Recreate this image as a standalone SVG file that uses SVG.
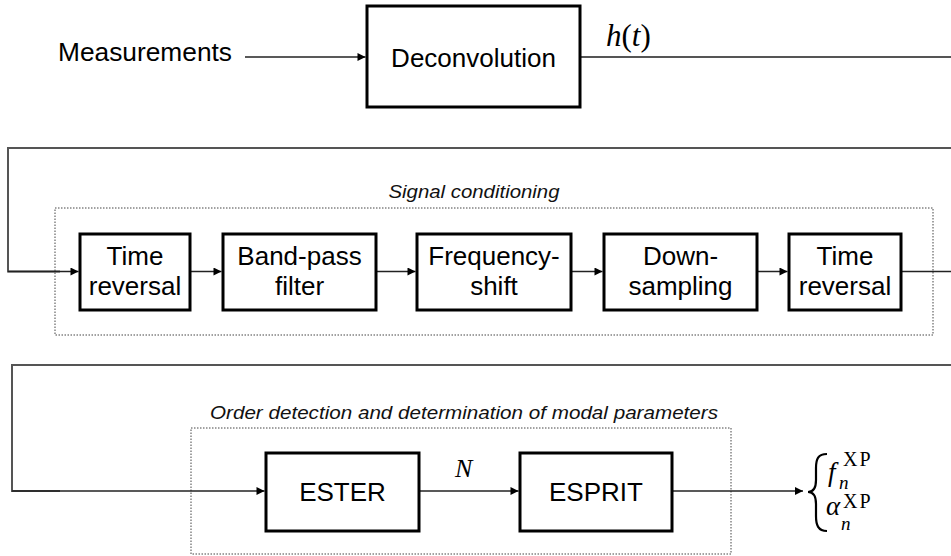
<svg xmlns="http://www.w3.org/2000/svg" width="951" height="556" viewBox="0 0 951 556">
<style>
  .box { fill: #fff; stroke: #000; stroke-width: 3; }
  .lbl { font-family: "Liberation Sans", Arial, sans-serif; font-size: 26px; fill: #000; text-anchor: middle; }
  .grp { fill: none; stroke: #444; stroke-width: 1; stroke-dasharray: 1.5 1.5; }
  .cap { font-family: "Liberation Sans", Arial, sans-serif; font-size: 19px; font-style: italic; fill: #111; text-anchor: middle; }
  .wire { fill: none; stroke: #222; stroke-width: 1.5; }
  .wrap { fill: none; stroke: #555; stroke-width: 2; }
  .arr { marker-end: url(#ah); }
  .math { font-family: "Liberation Serif", "Times New Roman", serif; fill: #000; }
  .it { font-style: italic; }
  .sup { font-size: 20px; letter-spacing: 2px; }
  .sub { font-size: 19px; font-style: italic; }
</style>
<defs>
  <marker id="ah" viewBox="0 0 10 10" refX="10" refY="5" markerWidth="9" markerHeight="8" markerUnits="userSpaceOnUse" orient="auto">
    <path d="M0,0 L10,5 L0,10 z" fill="#000"/>
  </marker>
</defs>
<rect width="951" height="556" fill="#fff"/>

<g id="groups">
  <rect class="grp" x="55" y="208" width="878" height="127"/>
  <text class="cap" x="474" y="198" textLength="171" lengthAdjust="spacingAndGlyphs">Signal conditioning</text>
  <rect class="grp" x="191" y="428" width="540" height="126"/>
  <text class="cap" x="464" y="419" textLength="508" lengthAdjust="spacingAndGlyphs">Order detection and determination of modal parameters</text>
</g>

<g id="connectors">
  <line class="wire arr" x1="245" y1="57" x2="365.5" y2="57"/>
  <line class="wrap" x1="580" y1="57" x2="951" y2="57"/>
  <polyline class="wrap" points="951,148 8,148 8,271.5 60,271.5"/>
  <line class="wire arr" x1="8" y1="271.5" x2="78.5" y2="271.5"/>
  <line class="wire arr" x1="190" y1="271.5" x2="221.5" y2="271.5"/>
  <line class="wire arr" x1="376" y1="271.5" x2="415.5" y2="271.5"/>
  <line class="wire arr" x1="571" y1="271.5" x2="602.5" y2="271.5"/>
  <line class="wire arr" x1="757" y1="271.5" x2="787.5" y2="271.5"/>
  <line class="wire" x1="901" y1="271.5" x2="951" y2="271.5"/>
  <polyline class="wrap" points="951,365 12,365 12,491 60,491"/>
  <line class="wire arr" x1="12" y1="491" x2="264.5" y2="491"/>
  <line class="wire arr" x1="419" y1="491" x2="518.5" y2="491"/>
  <line class="wire arr" x1="672" y1="491" x2="803" y2="491"/>
</g>

<g id="measurements">
  <text class="lbl" x="58" y="61" style="text-anchor:start" textLength="174" lengthAdjust="spacingAndGlyphs">Measurements</text>
</g>

<g id="deconvolution">
  <rect class="box" x="367" y="6" width="213" height="101"/>
  <text class="lbl" x="473.5" y="67">Deconvolution</text>
</g>

<g id="ht">
  <text class="math" x="606" y="46" font-size="31"><tspan class="it">h</tspan>(<tspan class="it">t</tspan>)</text>
</g>

<g id="time-reversal-1">
  <rect class="box" x="80" y="234" width="110" height="76"/>
  <text class="lbl" x="135" y="265">Time</text>
  <text class="lbl" x="135" y="295">reversal</text>
</g>

<g id="band-pass">
  <rect class="box" x="223" y="234" width="153" height="76"/>
  <text class="lbl" x="299.5" y="265">Band-pass</text>
  <text class="lbl" x="299.5" y="295">filter</text>
</g>

<g id="frequency-shift">
  <rect class="box" x="417" y="234" width="154" height="76"/>
  <text class="lbl" x="494" y="265">Frequency-</text>
  <text class="lbl" x="494" y="295">shift</text>
</g>

<g id="down-sampling">
  <rect class="box" x="604" y="234" width="153" height="76"/>
  <text class="lbl" x="680.5" y="265">Down-</text>
  <text class="lbl" x="680.5" y="295">sampling</text>
</g>

<g id="time-reversal-2">
  <rect class="box" x="789" y="234" width="112" height="76"/>
  <text class="lbl" x="845" y="265">Time</text>
  <text class="lbl" x="845" y="295">reversal</text>
</g>

<g id="ester">
  <rect class="box" x="266" y="453" width="153" height="78"/>
  <text class="lbl" x="342.5" y="501">ESTER</text>
</g>

<g id="n-label">
  <text class="math it" x="455" y="477" font-size="26">N</text>
</g>

<g id="esprit">
  <rect class="box" x="520" y="453" width="152" height="78"/>
  <text class="lbl" x="596" y="501">ESPRIT</text>
</g>

<g id="output">
  <path d="M827,454 C818,454 816,459 816,468 L816,480 C816,488 813,492 808,492 C813,492 816,496 816,504 L816,516 C816,525 818,531 827,531" fill="none" stroke="#000" stroke-width="2.2"/>
  <text class="math it" x="828" y="481" font-size="27">f</text>
  <text class="math sup" x="843" y="466">XP</text>
  <text class="math sub" x="839" y="489">n</text>
  <text class="math it" x="826" y="515" font-size="27">α</text>
  <text class="math sup" x="843" y="508">XP</text>
  <text class="math sub" x="841" y="530">n</text>
</g>
</svg>
